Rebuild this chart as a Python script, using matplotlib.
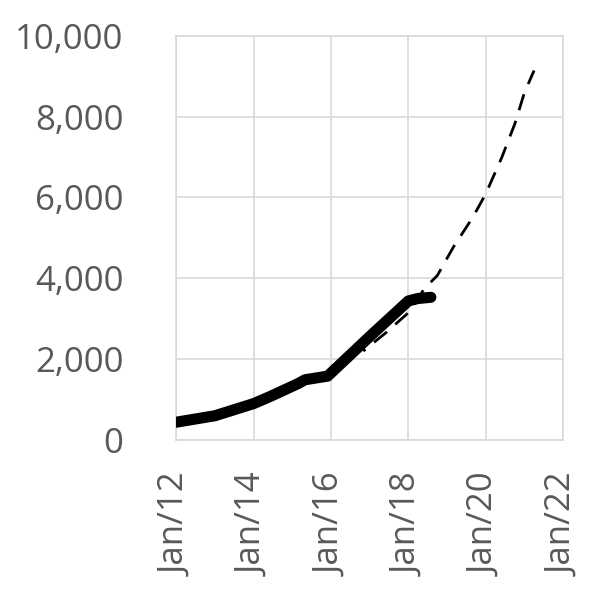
import numpy as np
import matplotlib
matplotlib.use("Agg")
import matplotlib.pyplot as plt
import matplotlib.dates as mdates
from matplotlib.ticker import FuncFormatter
from datetime import datetime

actual_dates = ["2012-01", "2013-01", "2014-01", "2014-06", "2015-03", "2015-05",
                "2015-12", "2017-01", "2018-01", "2018-04", "2018-08"]
actual_values = [440, 600, 900, 1070, 1400, 1490, 1580, 2560, 3440, 3500, 3530]

# dashed projection
trend_dates = ["2016-11", "2017-06", "2018-01", "2018-06", "2018-10", "2019-03",
               "2019-09", "2020-01", "2020-06", "2020-10", "2021-01", "2021-04"]
trend_values = [2200, 2650, 3150, 3745, 4070, 4770, 5510, 6090, 6995, 7820, 8600, 9140]

x_ticks = ["2012-01", "2014-01", "2016-01", "2018-01", "2020-01", "2022-01"]
y_ticks = [0, 2000, 4000, 6000, 8000, 10000]

to_dt = lambda s: [datetime.strptime(d, "%Y-%m") for d in s]

plt.rcParams['font.family'] = ['Open Sans', 'DejaVu Sans']
grey = "#595959"

fig = plt.figure(figsize=(5.91, 5.91), dpi=100)
ax = fig.add_axes([0.298, 0.2555, 0.655, 0.684])

ax.plot(to_dt(trend_dates), trend_values, color="k", lw=2, ls=(5, (6, 4)), zorder=3)
ax.plot(to_dt(actual_dates), actual_values, color="k", lw=8, solid_capstyle="round",
        solid_joinstyle="round", zorder=4)

ax.set_xlim(datetime(2012, 1, 1), datetime(2022, 1, 1))
ax.set_ylim(0, 10000)
ax.set_xticks(to_dt(x_ticks))
ax.xaxis.set_major_formatter(mdates.DateFormatter("%b/%y"))
ax.set_yticks(y_ticks)
ax.yaxis.set_major_formatter(FuncFormatter(lambda v, p: f"{int(v):,}"))

ax.grid(True, color="#d9d9d9", lw=1.2)
ax.set_axisbelow(True)
for s in ax.spines.values():
    s.set_color("#d9d9d9")
    s.set_linewidth(1.2)

ax.tick_params(axis="both", length=0, labelsize=25, labelcolor=grey)
ax.tick_params(axis="x", rotation=90, pad=24)
ax.tick_params(axis="y", pad=38)

fig.savefig("out.png", dpi=100)
